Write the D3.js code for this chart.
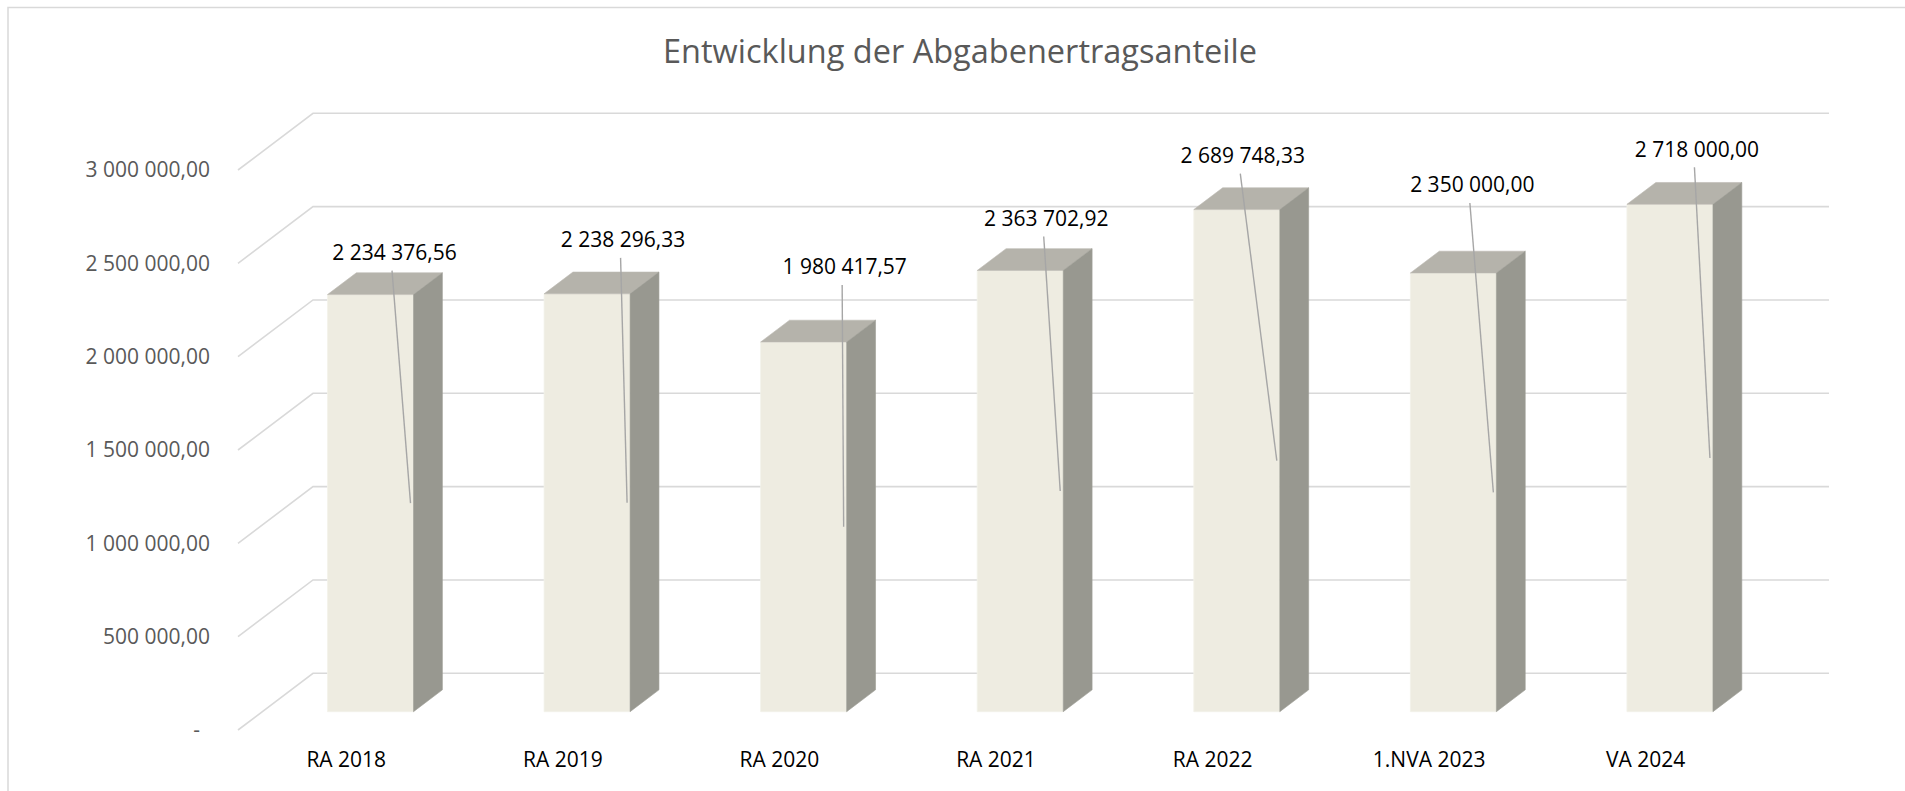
<!DOCTYPE html>
<html>
<head>
<meta charset="utf-8">
<script src="https://cdn.jsdelivr.net/npm/d3@7"></script>
<style>
  html, body { margin: 0; padding: 0; background: #fff; }
  svg { display: block; }
</style>
</head>
<body>
<svg id="chart" width="1905" height="791"></svg>
<script>
// ---- data ----
const title = "Entwicklung der Abgabenertragsanteile";
const categories = ["RA 2018", "RA 2019", "RA 2020", "RA 2021", "RA 2022", "1.NVA 2023", "VA 2024"];
const values = [2234376.56, 2238296.33, 1980417.57, 2363702.92, 2689748.33, 2350000.00, 2718000.00];
const yTicks = [0, 500000, 1000000, 1500000, 2000000, 2500000, 3000000];

// ---- layout (manual data label placement, px from bar front-top centre) ----
const labelOffsets = [[24, -42], [36, -54], [41, -75], [26, -52], [6, -54], [19, -88], [27, -55]];

const svg = d3.select("#chart");
const W = 1905, H = 791;
const FONT = "'Open Sans', 'Noto Sans', sans-serif";

const locale = d3.formatLocale({ decimal: ",", thousands: "\u00a0", grouping: [3], currency: ["", ""] });
const fmt = locale.format(",.2f");
const fmtVal = v => fmt(v).replace(/\u00a0/g, " ");

// scales (front plane)
const x = d3.scaleBand().domain(categories).range([238, 1754]);
const y = d3.scaleLinear().domain([0, 3000000]).range([730, 170]);
const DX = 75, DY = -56.7;            // depth offset of the back wall
const Z0 = 0.323, Z1 = 0.708;         // bar front / back depth fraction
const HALF = 43;                      // half bar width
const proj = (xp, v, z) => [xp + z * DX, y(v) + z * DY];
const pts = arr => arr.map(p => p.join(",")).join(" ");

// chart border
svg.append("path")
  .attr("d", `M8,${H} L8,7.5 L${W},7.5`)
  .attr("fill", "none").attr("stroke", "#d9d9d9").attr("stroke-width", 1.5);

// title
svg.append("text")
  .attr("x", 960).attr("y", 63)
  .attr("text-anchor", "middle")
  .attr("font-family", FONT).attr("font-size", 32.5)
  .attr("fill", "#595959")
  .text(title);

// gridlines (side wall diagonal + back wall horizontal)
const x0 = x.range()[0], x1 = x.range()[1];
svg.append("g").selectAll("path").data(yTicks).join("path")
  .attr("d", v => {
    const a = proj(x0, v, 0), b = proj(x0, v, 1), c = proj(x1, v, 1);
    return `M${a} L${b} L${c}`;
  })
  .attr("fill", "none").attr("stroke", "#d9d9d9").attr("stroke-width", 1.6);

// y tick labels
svg.append("g").selectAll("text").data(yTicks).join("text")
  .attr("x", v => v === 0 ? 200 : 210)
  .attr("y", v => y(v))
  .attr("dy", "0.35em")
  .attr("text-anchor", "end")
  .attr("font-family", FONT).attr("font-size", 21)
  .attr("fill", "#595959")
  .text(v => v === 0 ? "-" : fmtVal(v));

// bars
const data = categories.map((c, i) => ({ c, v: values[i], i }));
const bars = svg.append("g").selectAll("g").data(data).join("g");
const cx = d => x(d.c) + x.bandwidth() / 2;

bars.append("polygon") // front
  .attr("points", d => pts([proj(cx(d) - HALF, 0, Z0), proj(cx(d) + HALF, 0, Z0), proj(cx(d) + HALF, d.v, Z0), proj(cx(d) - HALF, d.v, Z0)]))
  .attr("fill", "#EEECE1").attr("stroke", "#F3F2EA").attr("stroke-width", 0.8);
bars.append("polygon") // top
  .attr("points", d => pts([proj(cx(d) - HALF, d.v, Z0), proj(cx(d) + HALF, d.v, Z0), proj(cx(d) + HALF, d.v, Z1), proj(cx(d) - HALF, d.v, Z1)]))
  .attr("fill", "#B5B3AB").attr("stroke", "#BDBBB3").attr("stroke-width", 0.6);
bars.append("polygon") // side
  .attr("points", d => pts([proj(cx(d) + HALF, 0, Z0), proj(cx(d) + HALF, d.v, Z0), proj(cx(d) + HALF, d.v, Z1), proj(cx(d) + HALF, 0, Z1)]))
  .attr("fill", "#989890").attr("stroke", "#9D9D95").attr("stroke-width", 0.6);

// data labels + leader lines
const labelPos = d => {
  const top = proj(cx(d), d.v, Z0);
  return [top[0] + labelOffsets[d.i][0], top[1] + labelOffsets[d.i][1]];
};
svg.append("g").selectAll("line").data(data).join("line")
  .attr("x1", d => labelPos(d)[0] - 2.5)
  .attr("y1", d => labelPos(d)[1] + 18)
  .attr("x2", d => proj(cx(d) + HALF, 0, Z0)[0] - 3)
  .attr("y2", d => (proj(cx(d), 0, Z0)[1] + proj(cx(d), d.v, Z0)[1]) / 2)
  .attr("stroke", "#A6A6A6").attr("stroke-width", 1.4);

svg.append("g").selectAll("text").data(data).join("text")
  .attr("x", d => labelPos(d)[0])
  .attr("y", d => labelPos(d)[1])
  .attr("dy", "0.35em")
  .attr("text-anchor", "middle")
  .attr("font-family", FONT).attr("font-size", 21)
  .attr("fill", "#000")
  .text(d => fmtVal(d.v));

// category labels (front edge of floor)
svg.append("g").selectAll("text").data(categories).join("text")
  .attr("x", c => x(c) + x.bandwidth() / 2)
  .attr("y", 760)
  .attr("dy", "0.35em")
  .attr("text-anchor", "middle")
  .attr("font-family", FONT).attr("font-size", 21)
  .attr("fill", "#000")
  .text(c => c);
</script>
</body>
</html>
